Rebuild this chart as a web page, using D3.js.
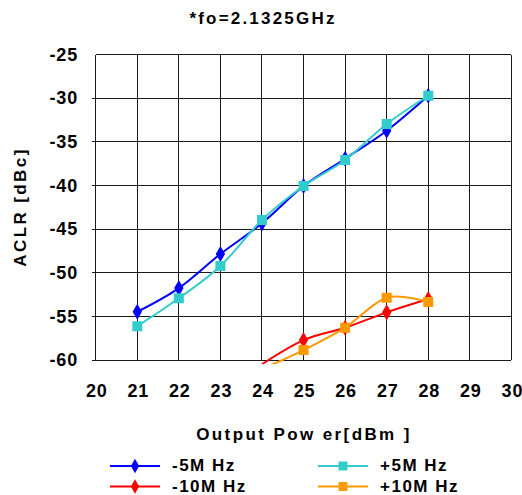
<!DOCTYPE html>
<html><head><meta charset="utf-8">
<script src="https://cdn.jsdelivr.net/npm/d3@7"></script>
<style>body{margin:0;background:#fff}svg{display:block}text{font-family:"Liberation Sans",Arial,sans-serif;font-weight:bold;fill:#000}</style>
</head><body>
<script>
const power = [21, 22, 23, 24, 25, 26, 27, 28];
const m5 = [-54.44, -51.73, -47.83, -44.32, -40.05, -36.92, -33.71, -29.71];
const p5 = [-56.09, -52.9, -49.2, -43.94, -40.05, -37.07, -32.95, -29.71];
const powerHi = [24, 25, 26, 27, 28];
const m10 = [-60.45, -57.69, -56.27, -54.51, -52.99];
const p10 = [-61.0, -58.83, -56.27, -52.84, -53.33];
const xTicks = [20, 21, 22, 23, 24, 25, 26, 27, 28, 29, 30];
const yTicks = [-25, -30, -35, -40, -45, -50, -55, -60];
const seriesNames = ["-5M Hz", "+5M Hz", "-10M Hz", "+10M Hz"];
const titleText = "*fo=2.1325GHz";
const xTitle = "Output Pow er[dBm ]";
const yTitle = "ACLR [dBc]";

const W = 522, H = 495;
const L = 95.7, R = 511.4, T = 54.6, B = 360.3;
const svg = d3.select("body").append("svg").attr("width", W).attr("height", H);
const x = d3.scaleLinear().domain([20, 30]).range([L, R]);
const y = d3.scaleLinear().domain([-60, -25]).range([B, T]);

// grid
const g = svg.append("g");
g.selectAll(".v").data(xTicks).join("line")
  .attr("x1", d => x(d)).attr("x2", d => x(d)).attr("y1", T).attr("y2", B)
  .attr("stroke", "#1a1a1a").attr("stroke-width", 1).attr("shape-rendering", "crispEdges");
g.selectAll(".h").data(yTicks).join("line")
  .attr("x1", d => d === -25 ? L : L - 4).attr("x2", R).attr("y1", d => y(d)).attr("y2", d => y(d))
  .attr("stroke", "#1a1a1a").attr("stroke-width", 1).attr("shape-rendering", "crispEdges");

// tick labels
svg.selectAll(".yl").data(yTicks).join("text")
  .attr("x", 78).attr("y", d => y(d) + 6).attr("text-anchor", "end")
  .attr("font-size", 18).attr("letter-spacing", 0.8).text(d => d);
svg.selectAll(".xl").data(xTicks).join("text")
  .attr("x", d => x(d) + 1).attr("y", 397).attr("text-anchor", "middle")
  .attr("font-size", 18).attr("letter-spacing", 0.8).text(d => d);

svg.append("text").attr("x", 263).attr("y", 24).attr("text-anchor", "middle")
  .attr("font-size", 17).attr("letter-spacing", 2.2).text(titleText);
svg.append("text").attr("x", 304).attr("y", 440).attr("text-anchor", "middle")
  .attr("font-size", 17).attr("letter-spacing", 2.4).text(xTitle);
svg.append("text").attr("transform", "translate(26,207) rotate(-90)").attr("text-anchor", "middle")
  .attr("font-size", 17).attr("letter-spacing", 2.4).text(yTitle);

// clip
svg.append("clipPath").attr("id", "clip").append("rect")
  .attr("x", L).attr("y", T - 5).attr("width", R - L).attr("height", B - T + 9);

const series = [
  {name: seriesNames[0], xs: power, ys: m5, color: "#0000FF", shape: "diamond"},
  {name: seriesNames[1], xs: power, ys: p5, color: "#33CCCC", shape: "square"},
  {name: seriesNames[2], xs: powerHi, ys: m10, color: "#FF0000", shape: "diamond"},
  {name: seriesNames[3], xs: powerHi, ys: p10, color: "#FF9900", shape: "square"}
];
const line = d3.line().x(d => x(d[0])).y(d => y(d[1])).curve(d3.curveCatmullRom.alpha(0));
const sym = {diamond: d3.symbol(d3.symbolDiamond, 75), square: d3.symbol(d3.symbolSquare, 100)};

const plot = svg.append("g").attr("clip-path", "url(#clip)");
series.forEach(s => {
  const pts = s.xs.map((v, i) => [v, s.ys[i]]);
  plot.append("path").attr("d", line(pts)).attr("fill", "none")
    .attr("stroke", s.color).attr("stroke-width", 2);
  plot.selectAll(null).data(pts.filter(p => p[1] >= -60)).join("path")
    .attr("d", sym[s.shape]()).attr("transform", p => `translate(${x(p[0])},${y(p[1])})`)
    .attr("fill", s.color);
});

// legend
const leg = [
  {s: series[0], lx: 110, ly: 466},
  {s: series[1], lx: 318, ly: 466},
  {s: series[2], lx: 110, ly: 486.5},
  {s: series[3], lx: 318, ly: 486.5}
];
leg.forEach(o => {
  svg.append("line").attr("x1", o.lx).attr("x2", o.lx + 50).attr("y1", o.ly).attr("y2", o.ly)
    .attr("stroke", o.s.color).attr("stroke-width", 2);
  svg.append("path").attr("d", o.s.shape === "diamond" ? d3.symbol(d3.symbolDiamond, 60)() : d3.symbol(d3.symbolSquare, 80)())
    .attr("transform", `translate(${o.lx + 25},${o.ly})`).attr("fill", o.s.color);
  svg.append("text").attr("x", o.lx + 62).attr("y", o.ly + 5)
    .attr("font-size", 17).attr("letter-spacing", 1.5).text(o.s.name);
});
</script>
</body></html>
